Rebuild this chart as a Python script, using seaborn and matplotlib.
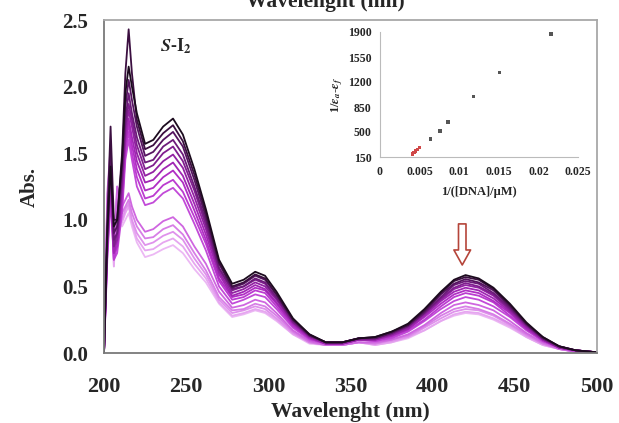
import seaborn as sns
import matplotlib.pyplot as plt
import pandas as pd

# wavelength grid (nm)
wavelength = [200, 202, 204, 206, 208, 211, 213, 215, 217, 220,
              225, 230, 236, 242, 248, 255, 262,
              270, 278, 285, 292, 298, 305, 315, 325,
              335, 345, 355,
              365, 375, 385, 395, 405, 413, 420, 428, 437, 447, 457, 467, 477, 487, 500]

# spectra, darkest (free complex) to lightest (highest DNA)
abs_00 = [0.0, 0.9, 1.4, 0.95, 1.0, 1.45, 1.95, 2.15, 2.0, 1.8, 1.57, 1.6, 1.7, 1.76, 1.64, 1.38, 1.08, 0.70, 0.52, 0.55, 0.61, 0.58, 0.46, 0.26, 0.14, 0.08, 0.08, 0.11, 0.12, 0.16, 0.22, 0.33, 0.46, 0.55, 0.585, 0.56, 0.49, 0.37, 0.23, 0.12, 0.05, 0.02, 0.005]
abs_01 = [0.0, 1.0, 1.7, 1.0, 1.0, 1.5, 2.1, 2.43, 2.1, 1.75, 1.53, 1.56, 1.65, 1.71, 1.59, 1.34, 1.05, 0.68, 0.50, 0.53, 0.59, 0.56, 0.44, 0.25, 0.14, 0.08, 0.08, 0.11, 0.12, 0.16, 0.21, 0.32, 0.45, 0.54, 0.57, 0.55, 0.48, 0.36, 0.22, 0.12, 0.05, 0.02, 0.005]
abs_02 = [0.0, 0.9, 1.5, 0.9, 0.95, 1.4, 1.85, 2.05, 1.9, 1.7, 1.48, 1.51, 1.60, 1.66, 1.55, 1.30, 1.02, 0.67, 0.49, 0.52, 0.58, 0.55, 0.44, 0.25, 0.13, 0.08, 0.08, 0.11, 0.11, 0.15, 0.21, 0.31, 0.44, 0.52, 0.555, 0.53, 0.47, 0.35, 0.22, 0.11, 0.05, 0.02, 0.005]
abs_03 = [0.0, 0.85, 1.45, 0.85, 0.9, 1.35, 1.75, 1.95, 1.8, 1.62, 1.43, 1.45, 1.55, 1.60, 1.49, 1.25, 0.99, 0.64, 0.48, 0.50, 0.56, 0.53, 0.42, 0.24, 0.13, 0.08, 0.08, 0.11, 0.11, 0.15, 0.20, 0.30, 0.42, 0.51, 0.54, 0.52, 0.45, 0.34, 0.21, 0.11, 0.05, 0.02, 0.005]
abs_04 = [0.0, 0.85, 1.4, 0.8, 0.9, 1.3, 1.7, 1.87, 1.75, 1.56, 1.38, 1.41, 1.50, 1.55, 1.44, 1.22, 0.96, 0.63, 0.47, 0.50, 0.55, 0.52, 0.41, 0.23, 0.13, 0.08, 0.08, 0.11, 0.11, 0.14, 0.20, 0.30, 0.41, 0.49, 0.525, 0.50, 0.44, 0.33, 0.21, 0.11, 0.04, 0.02, 0.005]
abs_05 = [0.0, 0.8, 1.35, 0.8, 0.85, 1.25, 1.65, 1.82, 1.7, 1.5, 1.33, 1.36, 1.44, 1.49, 1.39, 1.17, 0.93, 0.61, 0.45, 0.48, 0.53, 0.50, 0.40, 0.23, 0.12, 0.07, 0.07, 0.10, 0.10, 0.14, 0.19, 0.29, 0.40, 0.48, 0.51, 0.49, 0.43, 0.32, 0.20, 0.10, 0.04, 0.02, 0.005]
abs_06 = [0.0, 0.8, 1.3, 0.75, 0.85, 1.2, 1.6, 1.76, 1.62, 1.44, 1.28, 1.30, 1.38, 1.43, 1.33, 1.12, 0.89, 0.59, 0.43, 0.46, 0.51, 0.48, 0.38, 0.22, 0.12, 0.07, 0.07, 0.10, 0.10, 0.13, 0.18, 0.28, 0.39, 0.46, 0.49, 0.47, 0.41, 0.31, 0.19, 0.10, 0.04, 0.02, 0.005]
abs_07 = [0.0, 0.75, 1.25, 0.75, 0.8, 1.15, 1.55, 1.72, 1.56, 1.38, 1.22, 1.24, 1.32, 1.37, 1.28, 1.07, 0.85, 0.56, 0.42, 0.44, 0.49, 0.47, 0.37, 0.21, 0.11, 0.07, 0.07, 0.10, 0.10, 0.13, 0.18, 0.27, 0.37, 0.44, 0.47, 0.45, 0.39, 0.30, 0.18, 0.10, 0.04, 0.02, 0.005]
abs_08 = [0.0, 0.75, 1.2, 0.7, 0.8, 1.1, 1.5, 1.66, 1.5, 1.32, 1.16, 1.18, 1.26, 1.30, 1.21, 1.02, 0.82, 0.54, 0.40, 0.42, 0.47, 0.45, 0.35, 0.20, 0.11, 0.07, 0.07, 0.10, 0.09, 0.12, 0.17, 0.25, 0.35, 0.42, 0.45, 0.43, 0.38, 0.28, 0.18, 0.09, 0.04, 0.02, 0.005]
abs_09 = [0.0, 0.7, 1.15, 0.7, 0.75, 1.05, 1.45, 1.6, 1.45, 1.25, 1.11, 1.13, 1.20, 1.24, 1.16, 0.97, 0.77, 0.50, 0.37, 0.40, 0.44, 0.42, 0.33, 0.19, 0.10, 0.07, 0.07, 0.10, 0.09, 0.11, 0.16, 0.24, 0.33, 0.39, 0.42, 0.40, 0.35, 0.27, 0.17, 0.09, 0.04, 0.01, 0.005]
abs_10 = [0.0, 1.2, 1.55, 0.75, 1.25, 1.1, 1.15, 1.2, 1.1, 1.0, 0.91, 0.93, 0.99, 1.02, 0.95, 0.80, 0.67, 0.46, 0.34, 0.36, 0.40, 0.38, 0.30, 0.17, 0.09, 0.06, 0.06, 0.08, 0.08, 0.10, 0.14, 0.21, 0.30, 0.36, 0.38, 0.36, 0.32, 0.24, 0.15, 0.08, 0.03, 0.01, 0.005]
abs_11 = [0.0, 1.15, 1.5, 0.7, 1.25, 1.05, 1.1, 1.15, 1.05, 0.95, 0.86, 0.87, 0.93, 0.96, 0.89, 0.75, 0.62, 0.42, 0.32, 0.33, 0.37, 0.35, 0.28, 0.16, 0.08, 0.06, 0.06, 0.08, 0.07, 0.10, 0.13, 0.20, 0.28, 0.33, 0.35, 0.33, 0.29, 0.22, 0.14, 0.07, 0.03, 0.01, 0.005]
abs_12 = [0.0, 1.1, 1.45, 0.7, 1.2, 1.0, 1.08, 1.12, 1.0, 0.9, 0.81, 0.83, 0.88, 0.91, 0.85, 0.71, 0.59, 0.40, 0.30, 0.32, 0.35, 0.33, 0.26, 0.15, 0.08, 0.06, 0.06, 0.08, 0.07, 0.09, 0.12, 0.19, 0.26, 0.31, 0.33, 0.32, 0.28, 0.21, 0.13, 0.07, 0.03, 0.01, 0.005]
abs_13 = [0.0, 1.05, 1.4, 0.65, 1.2, 0.98, 1.05, 1.1, 0.98, 0.86, 0.77, 0.78, 0.83, 0.86, 0.80, 0.67, 0.56, 0.38, 0.28, 0.30, 0.33, 0.31, 0.25, 0.14, 0.08, 0.06, 0.06, 0.08, 0.06, 0.08, 0.12, 0.17, 0.24, 0.29, 0.31, 0.30, 0.26, 0.20, 0.12, 0.06, 0.03, 0.01, 0.005]
abs_14 = [0.0, 1.0, 1.35, 0.65, 1.15, 0.95, 1.0, 1.05, 0.95, 0.83, 0.72, 0.74, 0.78, 0.81, 0.75, 0.63, 0.53, 0.37, 0.27, 0.29, 0.32, 0.30, 0.24, 0.14, 0.07, 0.06, 0.06, 0.08, 0.06, 0.08, 0.11, 0.17, 0.24, 0.28, 0.30, 0.29, 0.25, 0.19, 0.12, 0.06, 0.03, 0.01, 0.005]

spectra = [abs_00, abs_01, abs_02, abs_03, abs_04, abs_05, abs_06, abs_07,
           abs_08, abs_09, abs_10, abs_11, abs_12, abs_13, abs_14]
curve_colors = ['#1c0b1e', '#3b0f40', '#551460', '#6c1a7a', '#801e8f', '#9222a3',
                '#a126b4', '#b02ec4', '#bb3bd0', '#c24ad8', '#cf66e0', '#d77ee6',
                '#df92ec', '#e6a6f0', '#ecb8f4']

# inset: double reciprocal plot
inv_dna = [0.0041, 0.0043, 0.0045, 0.0047, 0.0050, 0.0064, 0.0076, 0.0086, 0.0118, 0.0151, 0.0216]
inv_eps = [190, 210, 235, 255, 285, 400, 515, 640, 1000, 1330, 1870]
inv_group = ['fit'] * 5 + ['pt'] * 6

sns.set_style('white')
plt.rcParams['font.family'] = ['Liberation Serif', 'DejaVu Serif']
plt.rcParams['font.weight'] = 'bold'
plt.rcParams['mathtext.fontset'] = 'stix'

rows = []
for i, s in enumerate(spectra):
    for w, a in zip(wavelength, s):
        rows.append({'wl': w, 'abs': a, 'curve': 'c%02d' % i})
df = pd.DataFrame(rows)
order = ['c%02d' % i for i in range(len(spectra))][::-1]
pal = dict(zip(['c%02d' % i for i in range(len(spectra))], curve_colors))

fig = plt.figure(figsize=(6.19, 4.23), dpi=100)
ax = fig.add_axes([104 / 619, 70 / 423, 493 / 619, 333 / 423])
sns.lineplot(data=df, x='wl', y='abs', hue='curve', hue_order=order, palette=pal,
             estimator=None, legend=False, lw=1.3, ax=ax)
ax.set_xlim(200, 500)
ax.set_ylim(0, 2.5)
ax.set_xticks([200, 250, 300, 350, 400, 450, 500])
ax.set_yticks([0.0, 0.5, 1.0, 1.5, 2.0, 2.5])
ax.set_yticklabels(['%.1f' % v for v in [0.0, 0.5, 1.0, 1.5, 2.0, 2.5]])
ax.tick_params(axis='x', direction='in', length=4, labelsize=16, pad=17, color='#777777')
ax.tick_params(axis='y', direction='out', length=3.5, labelsize=15, pad=8, color='#777777')
for lab in ax.get_xticklabels() + ax.get_yticklabels():
    lab.set_fontweight('bold')
for sp in ['left', 'bottom']:
    ax.spines[sp].set_color('#7a7a7a')
    ax.spines[sp].set_linewidth(1.3)
for sp in ['top', 'right']:
    ax.spines[sp].set_color('#a8a8a8')
    ax.spines[sp].set_linewidth(1.3)
ax.set_xlabel('Wavelenght (nm)', fontsize=15.5, fontweight='bold', labelpad=4)
ax.set_ylabel('Abs.', fontsize=15, fontweight='bold', labelpad=16)

ax.text(234, 2.30, r'$\mathbfit{S}$-I$_\mathbf{2}$', fontsize=13, fontweight='bold', va='center')

# red hollow arrow over the 418 nm band
ax.annotate('', xy=(418, 0.64), xytext=(418, 0.99),
            arrowprops=dict(arrowstyle='simple,head_width=1.0,head_length=0.9,tail_width=0.45',
                            fc='white', ec='#b5453a', lw=1.2, mutation_scale=12))

# title that is cut off at the top edge in the original figure
fig.text(325 / 619, 1 - 7 / 423, 'Wavelenght (nm)', fontsize=15.5, fontweight='bold',
         ha='center', va='baseline')

# inset
ins = fig.add_axes([380 / 619, 1 - 157 / 423, 198 / 619, 125 / 423])
ins.patch.set_alpha(0)
idf = pd.DataFrame({'x': inv_dna, 'y': inv_eps, 'g': inv_group})
sns.scatterplot(data=idf, x='x', y='y', hue='g', palette={'fit': '#d04848', 'pt': '#555555'},
                marker='s', s=6, linewidth=0, legend=False, ax=ins)
ins.set_xlim(0, 0.025)
ins.set_ylim(150, 1900)
ins.set_xticks([0, 0.005, 0.01, 0.015, 0.02, 0.025])
ins.set_xticklabels(['0', '0.005', '0.01', '0.015', '0.02', '0.025'])
ins.set_yticks([150, 500, 850, 1200, 1550, 1900])
ins.tick_params(axis='both', labelsize=8.5, length=3, color='#999999', pad=3)
ins.tick_params(axis='x', direction='inout', pad=5)
for lab in ins.get_xticklabels() + ins.get_yticklabels():
    lab.set_fontweight('bold')
for sp in ['top', 'right']:
    ins.spines[sp].set_visible(False)
for sp in ['left', 'bottom']:
    ins.spines[sp].set_color('#bbbbbb')
    ins.spines[sp].set_linewidth(0.8)
ins.set_xlabel('1/([DNA]/μM)', fontsize=9, fontweight='bold', labelpad=6)
ins.set_ylabel(r'1/$\mathit{\epsilon_a}$-$\mathit{\epsilon_f}$', fontsize=9, fontweight='bold', labelpad=2)

fig.savefig('out.png', dpi=100)
